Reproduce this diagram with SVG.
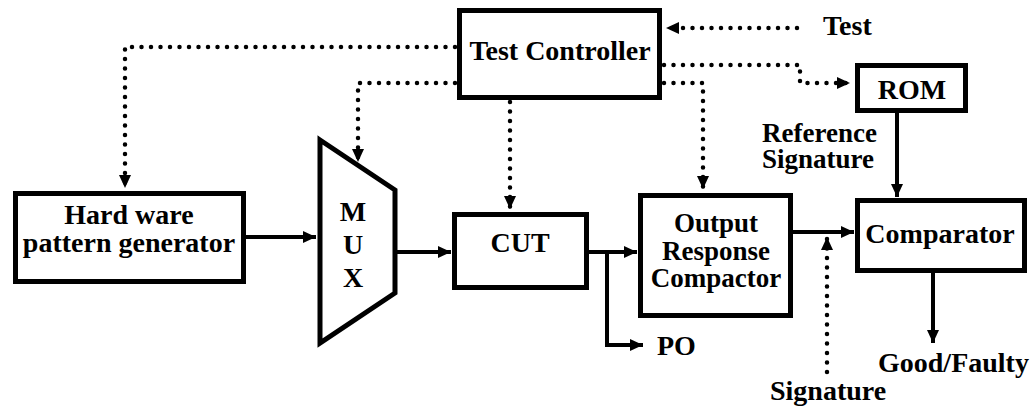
<svg xmlns="http://www.w3.org/2000/svg" width="1035" height="408" viewBox="0 0 1035 408">
<style>
.box{fill:#fff;stroke:#000;stroke-width:5}
.t{font-family:"Liberation Serif","Times New Roman",serif;font-weight:bold;font-size:28px;fill:#000}
.s{font-size:27px}
.m{text-anchor:middle}
.solid{fill:none;stroke:#000;stroke-width:4}
.dot{fill:none;stroke:#000;stroke-width:4.5;stroke-dasharray:0 9.5;stroke-linecap:round}
</style>
<defs>
<marker id="ah" markerUnits="userSpaceOnUse" markerWidth="16" markerHeight="16" viewBox="0 0 16 16" refX="15" refY="8" orient="auto">
<path d="M2,2 L15,8 L2,14 Z" fill="#000"/>
</marker>
</defs>
<rect width="1035" height="408" fill="#fff"/>
<g id="connectors">
<path class="dot" d="M797,28 H666" marker-end="url(#ah)"/>
<path class="dot" d="M664,65 H800 V83 H850" marker-end="url(#ah)"/>
<path class="dot" d="M664,83 H703 V189" marker-end="url(#ah)"/>
<path class="dot" d="M455,47 H125 V188" marker-end="url(#ah)"/>
<path class="dot" d="M455,83 H358 V162" marker-end="url(#ah)"/>
<path class="dot" d="M510,102 V209" marker-end="url(#ah)"/>
<path class="dot" d="M827,372 V237" marker-end="url(#ah)"/>
<path class="solid" d="M246,237 H316" marker-end="url(#ah)"/>
<path class="solid" d="M397,252 H451" marker-end="url(#ah)"/>
<path class="solid" d="M589,252 H637" marker-end="url(#ah)"/>
<path class="solid" d="M607,252 V345 H643" marker-end="url(#ah)"/>
<path class="solid" d="M793,232 H854" marker-end="url(#ah)"/>
<path class="solid" d="M897,113 V197" marker-end="url(#ah)"/>
<path class="solid" d="M933,273 V343" marker-end="url(#ah)"/>
</g>
<g id="test-controller">
<rect class="box" x="459.5" y="10.5" width="200" height="87"/>
<text class="t m" x="560" y="60">Test Controller</text>
</g>
<g id="test-label"><text class="t" x="823" y="35">Test</text></g>
<g id="rom">
<rect class="box" x="857.5" y="65.5" width="108" height="45"/>
<text class="t m" x="912" y="99" font-size="23">ROM</text>
</g>
<g id="ref-label">
<text class="t s" x="762" y="142">Reference</text>
<text class="t s" x="762" y="168">Signature</text>
</g>
<g id="pattern-generator">
<rect class="box" x="15.5" y="193.5" width="228" height="88"/>
<text class="t m" x="129" y="224">Hard ware</text>
<text class="t m" x="129" y="252">pattern generator</text>
</g>
<g id="mux">
<path class="box" d="M320,140 L395,190 L395,293 L320,343 Z"/>
<text class="t m" x="353" y="221">M</text>
<text class="t m" x="353" y="254">U</text>
<text class="t m" x="353" y="287">X</text>
</g>
<g id="cut">
<rect class="box" x="454.5" y="214.5" width="132" height="73"/>
<text class="t m" x="520" y="252">CUT</text>
</g>
<g id="orc">
<rect class="box" x="640.5" y="195.5" width="150" height="120"/>
<text class="t m s" x="716" y="232">Output</text>
<text class="t m s" x="716" y="260">Response</text>
<text class="t m s" x="716" y="287">Compactor</text>
</g>
<g id="po"><text class="t" x="657" y="355">PO</text></g>
<g id="comparator">
<rect class="box" x="857.5" y="200.5" width="167" height="70"/>
<text class="t m" x="940" y="243">Comparator</text>
</g>
<g id="good-faulty"><text class="t" x="878" y="372">Good/Faulty</text></g>
<g id="signature"><text class="t" x="770" y="400">Signature</text></g>
</svg>
